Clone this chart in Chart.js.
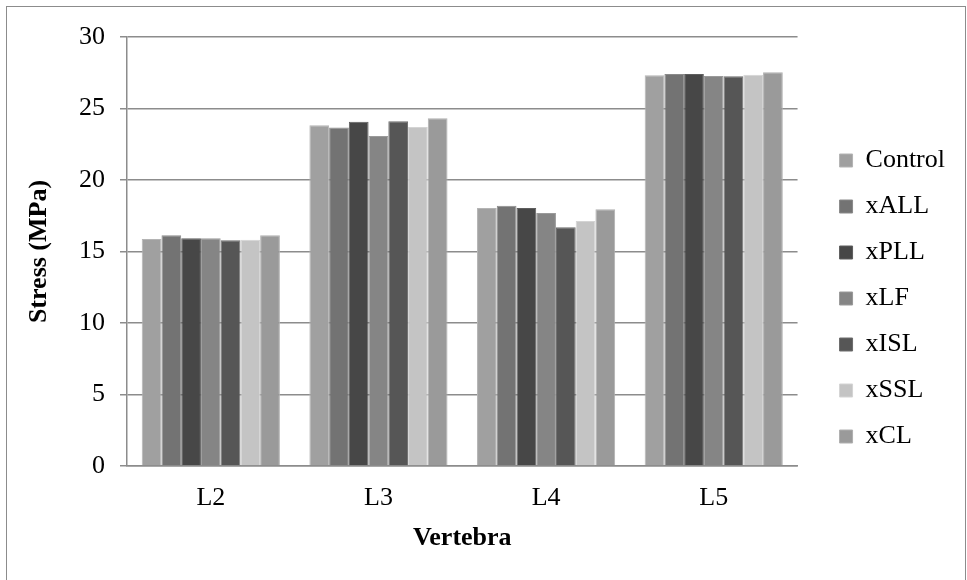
<!DOCTYPE html>
<html>
<head>
<meta charset="utf-8">
<script src="https://cdn.jsdelivr.net/npm/chart.js@4.4.1/dist/chart.umd.min.js"></script>
<style>
    html, body { margin: 0; padding: 0; background: #fff; }
    #wrap { position: relative; width: 967px; height: 580px; }
    #frame { position: absolute; left: 6px; top: 6px; width: 960px; height: 590px; border: 1.5px solid #8c8c8c; box-sizing: border-box; pointer-events: none; }
</style>
</head>
<body>
<div id="wrap">
    <canvas id="stressChart" width="967" height="580"></canvas>
    <div id="frame"></div>
</div>
<script>
var vertebrae = ["L2", "L3", "L4", "L5"];
var seriesNames = ["Control", "xALL", "xPLL", "xLF", "xISL", "xSSL", "xCL"];

var control = [15.87, 23.82, 18.04, 27.32];
var xALL = [16.13, 23.68, 18.20, 27.41];
var xPLL = [15.92, 24.08, 18.04, 27.41];
var xLF = [15.92, 23.08, 17.69, 27.27];
var xISL = [15.78, 24.10, 16.69, 27.25];
var xSSL = [15.83, 23.71, 17.13, 27.36];
var xCL = [16.13, 24.31, 17.95, 27.53];

var yTicks = [0, 5, 10, 15, 20, 25, 30];

var barColors = ["#a0a0a0", "#737373", "#474747", "#858585", "#565656", "#c4c4c4", "#9a9a9a"];
var edgeColors = ["#b4b4b4", "#8a8a8a", "#5e5e5e", "#9a9a9a", "#6c6c6c", "#d4d4d4", "#b0b0b0"];

var allSeries = [control, xALL, xPLL, xLF, xISL, xSSL, xCL];
var serif = "'Liberation Serif', 'Times New Roman', serif";

var datasets = allSeries.map(function(values, i) {
    return {
        label: seriesNames[i],
        data: values,
        backgroundColor: barColors[i],
        borderColor: edgeColors[i],
        borderWidth: 1,
        borderSkipped: "bottom",
        categoryPercentage: 0.824,
        barPercentage: 1.0
    };
});

var ctx = document.getElementById("stressChart").getContext("2d");
var chart = new Chart(ctx, {
    type: "bar",
    data: { labels: vertebrae, datasets: datasets },
    options: {
        responsive: false,
        animation: false,
        devicePixelRatio: 1,
        layout: { padding: { left: 20, right: 12, top: 37, bottom: 20 } },
        plugins: {
            tooltip: { enabled: false },
            legend: {
                position: "right",
                align: "center",
                labels: {
                    boxWidth: 13,
                    boxHeight: 13,
                    padding: 20,
                    color: "#000",
                    font: { family: serif, size: 26 }
                }
            }
        },
        scales: {
            x: {
                grid: { display: false, drawTicks: false },
                border: { display: true, color: "#8c8c8c", width: 1.5 },
                ticks: { color: "#000", padding: 17, font: { family: serif, size: 26 } },
                title: {
                    display: true,
                    text: "Vertebra",
                    color: "#000",
                    padding: { top: 4, bottom: 6 },
                    font: { family: serif, size: 26, weight: "bold" }
                },
                afterFit: function(scale) { scale.height = 94; }
            },
            y: {
                min: 0,
                max: 30,
                afterBuildTicks: function(scale) {
                    scale.ticks = yTicks.map(function(v) { return { value: v }; });
                },
                grid: { color: "#8c8c8c", lineWidth: 1.5, tickLength: 7, drawTicks: true },
                border: { display: true, color: "#8c8c8c", width: 1.5 },
                ticks: { color: "#000", padding: 15, font: { family: serif, size: 26 } },
                title: {
                    display: true,
                    text: "Stress (MPa)",
                    color: "#000",
                    padding: { top: 4, bottom: 10 },
                    font: { family: serif, size: 26, weight: "bold" }
                },
                afterFit: function(scale) { scale.width = 107; }
            },
            gap: {
                type: "linear",
                position: "right",
                display: true,
                grid: { display: false, drawTicks: false },
                border: { display: false },
                ticks: { display: false },
                afterFit: function(scale) { scale.width = 22; }
            }
        }
    }
});
</script>
</body>
</html>
